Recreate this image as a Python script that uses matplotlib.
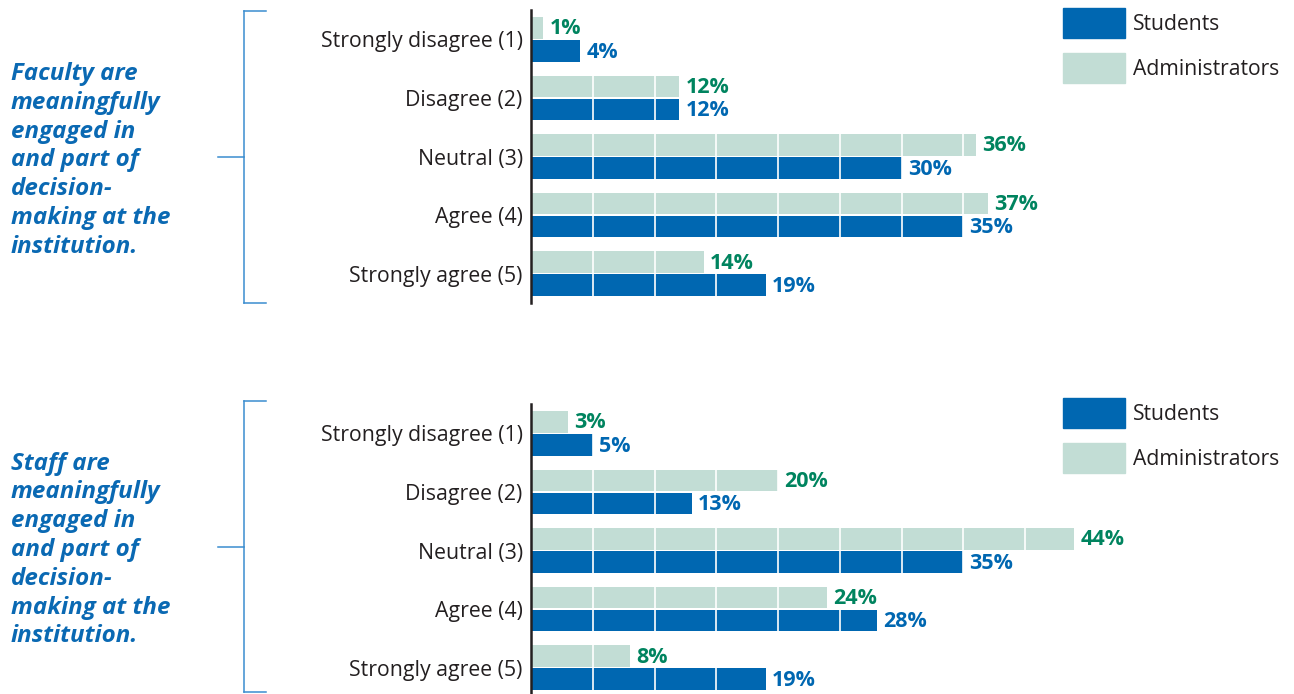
import matplotlib
matplotlib.use("Agg")
import matplotlib.pyplot as plt
import numpy as np
from matplotlib.lines import Line2D
from matplotlib.patches import Patch

plt.rcParams["font.family"] = ["Open Sans", "DejaVu Sans"]

W, H = 1294, 694

categories = ["Strongly disagree (1)", "Disagree (2)", "Neutral (3)",
              "Agree (4)", "Strongly agree (5)"]
faculty_students = [4, 12, 30, 35, 19]
faculty_admins = [1, 12, 36, 37, 14]
staff_students = [5, 13, 35, 28, 19]
staff_admins = [3, 20, 44, 24, 8]
titles = ["Faculty are\nmeaningfully\nengaged in\nand part of\ndecision-\nmaking at the\ninstitution.",
          "Staff are\nmeaningfully\nengaged in\nand part of\ndecision-\nmaking at the\ninstitution."]

STUDENT_C = "#0067b1"
ADMIN_C = "#c2ddd5"
ADMIN_TXT = "#00845f"
BRACKET_C = "#3b8dcf"
TITLE_C = "#0a69b3"
LABEL_C = "#231f20"


def fx(x):
    return x / W


def fy(y):
    return 1 - y / H


def panel(top, students, admins, title, bracket_top, bracket_bot):
    ax = fig.add_axes([fx(531), fy(top + 293), fx(741), 293 / H])
    y = np.arange(len(categories))
    ax.barh(y - 0.196, admins, height=0.37, color=ADMIN_C, zorder=1)
    ax.barh(y + 0.196, students, height=0.37, color=STUDENT_C, zorder=1)
    for yi, a, s in zip(y, admins, students):
        ax.text(a + 0.5, yi - 0.18, f"{a}%", color=ADMIN_TXT, fontsize=15.5,
                fontweight="bold", va="center", ha="left", zorder=4)
        ax.text(s + 0.5, yi + 0.22, f"{s}%", color=STUDENT_C, fontsize=15.5,
                fontweight="bold", va="center", ha="left", zorder=4)
    ax.set_xlim(0, 60)
    ax.set_ylim(4.5, -0.5)
    ax.set_yticks(y)
    ax.set_yticklabels(categories, fontsize=15.3, color=LABEL_C)
    ax.tick_params(axis="y", length=0, pad=6)
    ax.set_xticks(np.arange(5, 60, 5))
    ax.tick_params(axis="x", length=0, labelbottom=False)
    ax.set_axisbelow(False)
    ax.xaxis.grid(True, color="white", lw=1.2)
    for s in ["top", "right", "bottom"]:
        ax.spines[s].set_visible(False)
    ax.spines["left"].set_color("#231f20")
    ax.spines["left"].set_linewidth(1.8)
    ax.legend(handles=[Patch(color=STUDENT_C, label="Students"),
                       Patch(color=ADMIN_C, label="Administrators")],
              loc="upper left", bbox_to_anchor=(fx(1063), fy(bracket_top - 3)),
              bbox_transform=fig.transFigure, frameon=False, fontsize=15.2,
              handlelength=2.94, handleheight=1.81, handletextpad=0.38,
              labelspacing=0.71, borderpad=0, borderaxespad=0,
              labelcolor=LABEL_C)

    mid = (bracket_top + bracket_bot) / 2
    kw = dict(color=BRACKET_C, lw=1.1, transform=fig.transFigure)
    fig.add_artist(Line2D([fx(244), fx(244)], [fy(bracket_top), fy(bracket_bot)], **kw))
    fig.add_artist(Line2D([fx(244), fx(266)], [fy(bracket_top), fy(bracket_top)], **kw))
    fig.add_artist(Line2D([fx(244), fx(266)], [fy(bracket_bot), fy(bracket_bot)], **kw))
    fig.add_artist(Line2D([fx(218), fx(244)], [fy(mid), fy(mid)], **kw))
    fig.text(fx(11), fy(mid + 3.5), title, color=TITLE_C, fontsize=17.4,
             fontweight="bold", fontstyle="italic", ha="left", va="center",
             linespacing=1.265)
    return ax


fig = plt.figure(figsize=(W / 100, H / 100), dpi=100)
panel(10, faculty_students, faculty_admins, titles[0], 11, 303)
panel(404, staff_students, staff_admins, titles[1], 401, 692)
fig.savefig("out.png", dpi=100)
